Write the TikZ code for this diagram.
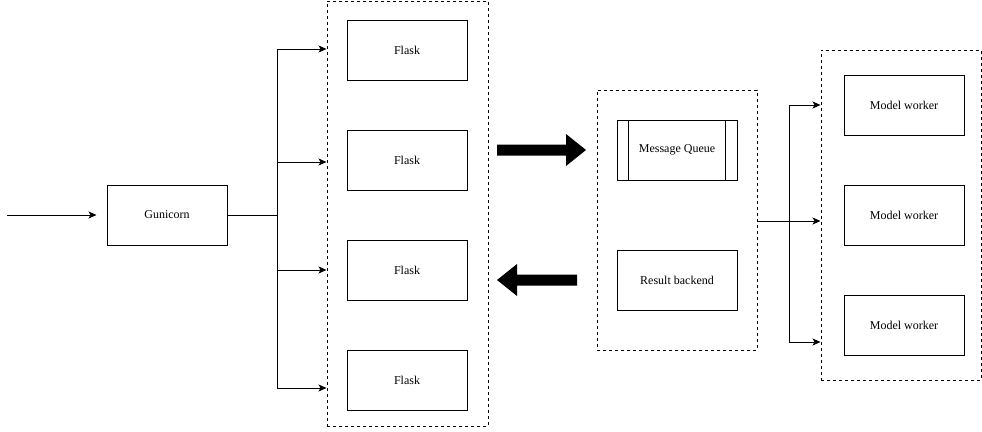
\documentclass[tikz,border=0pt]{standalone}
\usepackage{fontspec}
\setmainfont{Liberation Serif}
\usetikzlibrary{arrows.meta}

\begin{document}
\begin{tikzpicture}[x=1pt, y=-1pt, line width=1pt,
  font=\fontsize{12}{14}\selectfont,
  box/.style = {draw, minimum width=120pt, minimum height=60pt, inner sep=0pt},
  group/.style = {draw, dash pattern=on 3pt off 3pt, inner sep=0pt},
  flow/.style = {-{Stealth[length=8pt, width=7pt, inset=2pt]}},
  bigarrow/.style = {fill=black}]
\useasboundingbox (0,0) rectangle (982,431);

% containers
\node[group, minimum width=161pt, minimum height=425pt] (flaskgroup) at (407.5,213.5) {};
\node[group, minimum width=160pt, minimum height=260pt] (midgroup) at (677,220) {};
\node[group, minimum width=160pt, minimum height=330pt] (workergroup) at (901,215) {};

% boxes
\node[box] (gunicorn) at (167,215) {Gunicorn};
\node[box] (flask1) at (407,50) {Flask};
\node[box] (flask2) at (407,160) {Flask};
\node[box] (flask3) at (407,270) {Flask};
\node[box] (flask4) at (407,380) {Flask};
\node[box] (queue) at (677,150) {Message Queue};
\draw ([xshift=12pt]queue.north west) -- ([xshift=12pt]queue.south west);
\draw ([xshift=-12pt]queue.north east) -- ([xshift=-12pt]queue.south east);
\node[box] (backend) at (677,280) {Result backend};
\node[box] (worker1) at (904,105) {Model worker};
\node[box] (worker2) at (904,215) {Model worker};
\node[box] (worker3) at (904,325) {Model worker};

% gunicorn to flask
\coordinate (inlet) at (7,215);
\coordinate (fork) at (277,215);
\draw[flow, shorten >=10pt] (inlet) -- (gunicorn);
\draw (gunicorn.east) -- (fork);
\foreach \y in {49,162,270,388}
  \draw[flow] (fork) |- (flaskgroup.west |- 0,\y);

% big arrows
\fill[bigarrow] (497,144.5) -- (566,144.5) -- (566,134) -- (586,150)
  -- (566,166) -- (566,155.5) -- (497,155.5) -- cycle;
\fill[bigarrow] (577,274.5) -- (517,274.5) -- (517,264) -- (497,280)
  -- (517,296) -- (517,285.5) -- (577,285.5) -- cycle;

% broker to workers
\coordinate (split) at (789,221);
\draw[flow] (midgroup.east |- split) -- (workergroup.west |- split);
\foreach \y in {105,342}
  \draw[flow] (split) |- (workergroup.west |- 0,\y);
\end{tikzpicture}
\end{document}
